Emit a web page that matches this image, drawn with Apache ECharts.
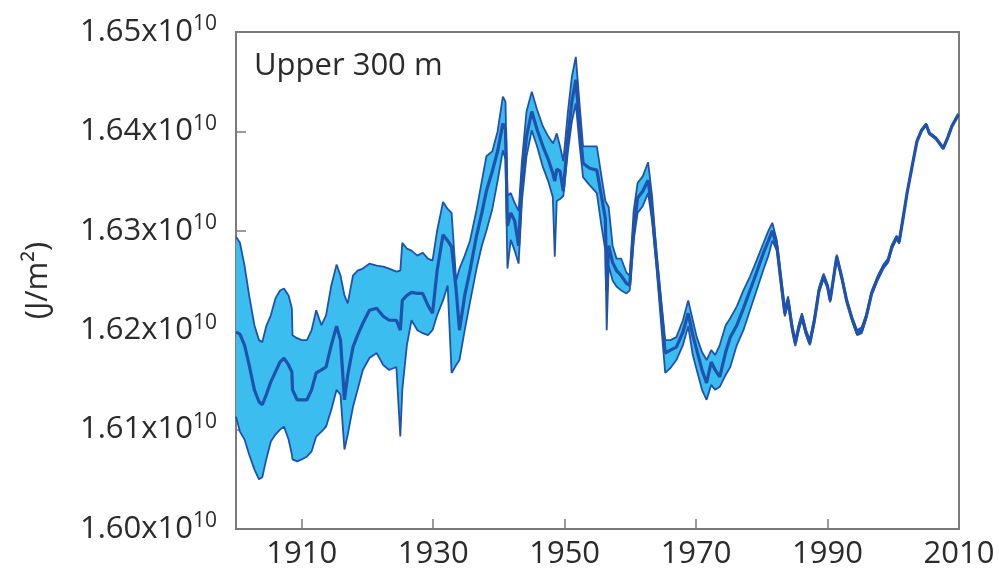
<!DOCTYPE html>
<html>
<head>
<meta charset="utf-8">
<script src="https://cdn.jsdelivr.net/npm/echarts@6/dist/echarts.min.js"></script>
<style>
  html, body { margin: 0; padding: 0; background: #fff; }
  #chart { width: 999px; height: 583px; }
</style>
</head>
<body>
<div id="chart"></div>
<script>
// ocean heat content, upper 300 m, values in units of 1e10 J/m2
var years = [
  1900.0, 1900.6, 1901.3, 1902.0, 1902.8, 1903.5, 1904.0, 1904.6, 1905.3, 1906.0,
  1906.7, 1907.3, 1908.0, 1908.5, 1908.6, 1909.3, 1910.0, 1910.8, 1911.5, 1912.2,
  1913.0, 1913.7, 1914.5, 1915.3, 1915.9, 1916.5, 1917.0, 1917.8, 1918.5, 1919.3,
  1920.3, 1921.4, 1922.4, 1923.3, 1924.4, 1925.0, 1925.3, 1926.0, 1926.7, 1927.6,
  1928.4, 1929.2, 1929.9, 1930.6, 1931.5, 1932.2, 1932.8, 1933.5, 1934.0, 1934.8,
  1935.6, 1936.6, 1937.4, 1938.1, 1939.0, 1939.8, 1940.6, 1941.0, 1941.3, 1941.8,
  1942.4, 1943.0, 1943.5, 1944.2, 1945.0, 1945.8, 1946.7, 1947.5, 1948.2, 1948.5,
  1948.8, 1949.3, 1949.8, 1950.5, 1951.1, 1951.7, 1952.3, 1952.8, 1953.8, 1954.9,
  1955.6, 1956.2, 1956.4, 1956.7, 1957.3, 1957.9, 1958.6, 1959.4, 1959.9, 1960.5,
  1961.1, 1961.9, 1962.7, 1963.3, 1964.0, 1964.7, 1965.3, 1966.1, 1967.0, 1968.0,
  1968.8, 1969.5, 1970.1, 1970.9, 1971.6, 1972.3, 1972.9, 1973.6, 1974.5, 1975.2,
  1976.2, 1977.2, 1978.2, 1979.2, 1980.2, 1981.0, 1981.6, 1982.3, 1983.0, 1983.5,
  1984.0, 1984.6, 1985.1, 1985.6, 1986.1, 1986.7, 1987.3, 1988.0, 1988.7, 1989.4,
  1990.0, 1990.4, 1991.4, 1992.2, 1992.9, 1993.7, 1994.5, 1995.2, 1995.9, 1996.7,
  1997.6, 1998.5, 1999.2, 1999.8, 2000.5, 2000.9, 2001.5, 2002.1, 2002.9, 2003.6,
  2004.3, 2005.0, 2005.5, 2006.5, 2007.6, 2008.3, 2008.9, 2009.9
];

var meanVals = [
  1.6198, 1.6196, 1.6185, 1.6165, 1.6140, 1.6128, 1.6125, 1.6135, 1.6148, 1.6158,
  1.6168, 1.6172, 1.6165, 1.6158, 1.6140, 1.6130, 1.6130, 1.6130, 1.6140, 1.6157,
  1.6160, 1.6163, 1.6185, 1.6204, 1.6190, 1.6130, 1.6155, 1.6183, 1.6195, 1.6207,
  1.6220, 1.6222, 1.6214, 1.6210, 1.6210, 1.6200, 1.6230, 1.6235, 1.6238, 1.6237,
  1.6237, 1.6225, 1.6217, 1.6260, 1.6296, 1.6290, 1.6284, 1.6240, 1.6200, 1.6235,
  1.6260, 1.6295, 1.6318, 1.6340, 1.6360, 1.6380, 1.6408, 1.6402, 1.6305, 1.6318,
  1.6310, 1.6285, 1.6350, 1.6395, 1.6420, 1.6402, 1.6385, 1.6372, 1.6358, 1.6350,
  1.6362, 1.6360, 1.6340, 1.6395, 1.6430, 1.6452, 1.6405, 1.6368, 1.6363, 1.6361,
  1.6335, 1.6312, 1.6240, 1.6285, 1.6268, 1.6260, 1.6255, 1.6247, 1.6245, 1.6300,
  1.6333, 1.6340, 1.6351, 1.6320, 1.6270, 1.6220, 1.6177, 1.6180, 1.6183, 1.6198,
  1.6217, 1.6195, 1.6180, 1.6160, 1.6147, 1.6168, 1.6160, 1.6153, 1.6178, 1.6193,
  1.6205, 1.6222, 1.6240, 1.6258, 1.6277, 1.6290, 1.6300, 1.6284, 1.6245, 1.6217,
  1.6230, 1.6203, 1.6187, 1.6202, 1.6214, 1.6198, 1.6187, 1.6210, 1.6240, 1.6254,
  1.6244, 1.6230, 1.6274, 1.6252, 1.6230, 1.6212, 1.6197, 1.6200, 1.6214, 1.6237,
  1.6252, 1.6264, 1.6270, 1.6284, 1.6293, 1.6289, 1.6313, 1.6338, 1.6366, 1.6390,
  1.6401, 1.6407, 1.6398, 1.6393, 1.6383, 1.6394, 1.6405, 1.6417
];

var lowerVals = [
  1.6113, 1.6098, 1.6090, 1.6075, 1.6060, 1.6050, 1.6052, 1.6070, 1.6088, 1.6095,
  1.6100, 1.6103, 1.6090, 1.6075, 1.6070, 1.6068, 1.6070, 1.6073, 1.6078, 1.6093,
  1.6098, 1.6103, 1.6120, 1.6140, 1.6135, 1.6080, 1.6095, 1.6123, 1.6140, 1.6160,
  1.6172, 1.6177, 1.6165, 1.6160, 1.6163, 1.6093, 1.6140, 1.6185, 1.6210, 1.6200,
  1.6197, 1.6195, 1.6200, 1.6215, 1.6230, 1.6245, 1.6157, 1.6165, 1.6170, 1.6200,
  1.6228, 1.6262, 1.6285, 1.6300, 1.6322, 1.6350, 1.6381, 1.6372, 1.6262, 1.6291,
  1.6280, 1.6267, 1.6330, 1.6375, 1.6401, 1.6385, 1.6364, 1.6350, 1.6334, 1.6274,
  1.6330, 1.6332, 1.6335, 1.6380, 1.6410, 1.6428, 1.6385, 1.6354, 1.6346, 1.6338,
  1.6305, 1.6280, 1.6200, 1.6265, 1.6250, 1.6244, 1.6240, 1.6237, 1.6240, 1.6290,
  1.6318, 1.6325, 1.6338, 1.6310, 1.6262, 1.6205, 1.6157, 1.6162, 1.6170, 1.6185,
  1.6204, 1.6175, 1.6160, 1.6140, 1.6130, 1.6145, 1.6140, 1.6143, 1.6155, 1.6163,
  1.6185, 1.6200, 1.6220, 1.6240, 1.6260, 1.6275, 1.6290, 1.6280, 1.6240, 1.6214,
  1.6227, 1.6200, 1.6184, 1.6200, 1.6211, 1.6196, 1.6185, 1.6207, 1.6238, 1.6252,
  1.6242, 1.6228, 1.6272, 1.6250, 1.6228, 1.6210, 1.6195, 1.6197, 1.6212, 1.6235,
  1.6250, 1.6262, 1.6268, 1.6282, 1.6292, 1.6287, 1.6312, 1.6337, 1.6365, 1.6389,
  1.6400, 1.6406, 1.6397, 1.6392, 1.6382, 1.6393, 1.6404, 1.6416
];

var upperVals = [
  1.6294, 1.6288, 1.6265, 1.6235, 1.6205, 1.6190, 1.6188, 1.6204, 1.6215, 1.6232,
  1.6240, 1.6242, 1.6235, 1.6222, 1.6195, 1.6192, 1.6190, 1.6190, 1.6200, 1.6220,
  1.6205, 1.6215, 1.6245, 1.6266, 1.6255, 1.6235, 1.6227, 1.6255, 1.6260, 1.6262,
  1.6267, 1.6265, 1.6264, 1.6262, 1.6259, 1.6260, 1.6288, 1.6282, 1.6280, 1.6275,
  1.6278, 1.6272, 1.6270, 1.6300, 1.6329, 1.6322, 1.6318, 1.6250, 1.6262, 1.6275,
  1.6290, 1.6321, 1.6350, 1.6375, 1.6380, 1.6400, 1.6435, 1.6430, 1.6335, 1.6338,
  1.6328, 1.6320, 1.6370, 1.6420, 1.6440, 1.6422, 1.6405, 1.6395, 1.6388, 1.6392,
  1.6398, 1.6385, 1.6370, 1.6420, 1.6455, 1.6475, 1.6425, 1.6385, 1.6385, 1.6385,
  1.6355, 1.6330, 1.6328, 1.6324, 1.6285, 1.6272, 1.6272, 1.6258, 1.6255, 1.6320,
  1.6348, 1.6355, 1.6369, 1.6335, 1.6277, 1.6230, 1.6190, 1.6190, 1.6193, 1.6210,
  1.6230, 1.6210, 1.6193, 1.6178, 1.6170, 1.6180, 1.6175, 1.6185, 1.6205, 1.6212,
  1.6224, 1.6240, 1.6254, 1.6270, 1.6287, 1.6300, 1.6308, 1.6290, 1.6250, 1.6222,
  1.6234, 1.6206, 1.6190, 1.6205, 1.6217, 1.6201, 1.6190, 1.6213, 1.6243, 1.6257,
  1.6246, 1.6232, 1.6276, 1.6254, 1.6232, 1.6214, 1.6200, 1.6203, 1.6216, 1.6239,
  1.6254, 1.6266, 1.6272, 1.6286, 1.6295, 1.6291, 1.6315, 1.6339, 1.6367, 1.6391,
  1.6402, 1.6408, 1.6399, 1.6394, 1.6384, 1.6395, 1.6406, 1.6418
];

var xTickYears = [1910, 1930, 1950, 1970, 1990, 2010];

var lineColor = '#1f52ad';
var bandColor = '#3cbdf0';
var axisColor = '#7b7b7b';
var textColor = '#2b2b2b';
var fontName = 'Open Sans';

function pairs(vals) {
  return years.map(function (y, i) { return [y, vals[i]]; });
}

// shaded range between lower and upper, drawn once as a polygon
function renderBand(params, api) {
  if (params.dataIndex !== 0) return null;
  var pts = [];
  for (var i = 0; i < years.length; i++) pts.push(api.coord([years[i], upperVals[i]]));
  for (var j = years.length - 1; j >= 0; j--) pts.push(api.coord([years[j], lowerVals[j]]));
  return {
    type: 'polygon',
    shape: { points: pts },
    style: { fill: bandColor, stroke: null }
  };
}

var chart = echarts.init(document.getElementById('chart'));

var option = {
  backgroundColor: '#ffffff',
  animation: false,
  title: {
    text: 'Upper 300 m',
    left: 249,
    top: 46,
    textStyle: { fontFamily: fontName, fontSize: 31, fontWeight: 'normal', color: textColor }
  },
  grid: {
    left: 236, right: 40, top: 32, bottom: 54,
    show: true,
    borderColor: axisColor,
    borderWidth: 2,
    containLabel: false
  },
  xAxis: {
    type: 'value',
    min: 1900,
    max: 2010,
    axisLine: { show: true, lineStyle: { color: axisColor, width: 2 } },
    axisTick: {
      show: true, inside: true, length: 10,
      customValues: xTickYears,
      lineStyle: { color: axisColor, width: 1.5 }
    },
    axisLabel: {
      customValues: xTickYears,
      margin: 10,
      formatter: function (v) { return String(v); },
      fontFamily: fontName, fontSize: 31, color: textColor
    },
    splitLine: { show: false }
  },
  yAxis: {
    type: 'value',
    min: 1.60,
    max: 1.65,
    interval: 0.01,
    name: '(J/m²)',
    nameLocation: 'middle',
    nameGap: 182,
    nameTextStyle: { fontFamily: fontName, fontSize: 31, color: textColor },
    axisLine: { show: true, lineStyle: { color: axisColor, width: 2 } },
    axisTick: { show: true, inside: true, length: 10, lineStyle: { color: axisColor, width: 1.5 } },
    axisLabel: {
      margin: 19,
      formatter: function (v) { return '{a|' + v.toFixed(2) + 'x10}{b|10}'; },
      rich: {
        a: { fontFamily: fontName, fontSize: 31, color: textColor, lineHeight: 36 },
        b: { fontFamily: fontName, fontSize: 21, color: textColor, verticalAlign: 'top', lineHeight: 22, padding: [0, 0, 22, 0] }
      }
    },
    splitLine: { show: false }
  },
  series: [
    {
      name: 'range', type: 'custom',
      data: years.map(function (y, i) { return [y, lowerVals[i], upperVals[i]]; }),
      encode: { x: 0, y: [1, 2] },
      renderItem: renderBand,
      silent: true,
      z: 2
    },
    {
      name: 'lower', type: 'line',
      data: pairs(lowerVals),
      symbol: 'none',
      lineStyle: { color: lineColor, width: 1.8 },
      z: 3
    },
    {
      name: 'upper', type: 'line',
      data: pairs(upperVals),
      symbol: 'none',
      lineStyle: { color: lineColor, width: 1.8 },
      z: 3
    },
    {
      name: 'mean', type: 'line',
      data: pairs(meanVals),
      symbol: 'none',
      lineStyle: { color: lineColor, width: 3.2 },
      z: 4
    }
  ]
};

chart.setOption(option);
</script>
</body>
</html>
